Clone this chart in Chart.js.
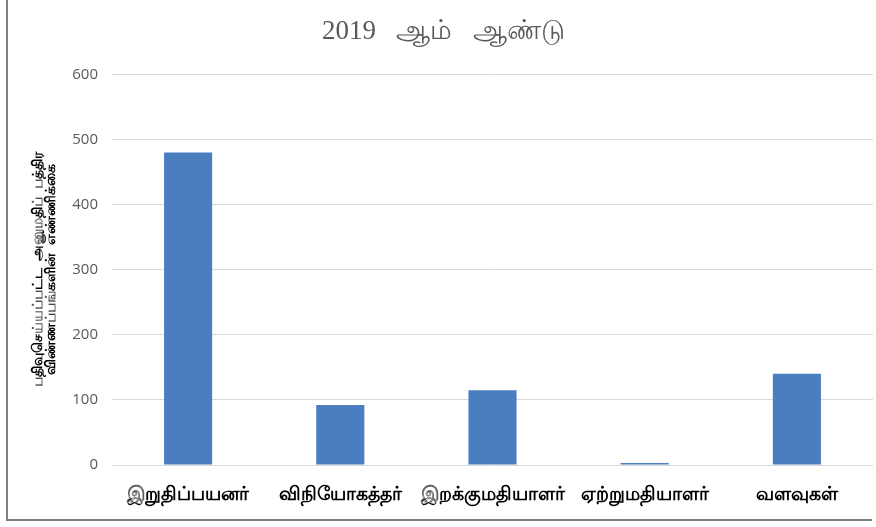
<!DOCTYPE html>
<html>
<head>
<meta charset="utf-8">
<script src="https://cdn.jsdelivr.net/npm/chart.js@4.4.1/dist/chart.umd.min.js"></script>
<style>
  html, body { margin: 0; padding: 0; background: #fff; }
  .wrap { position: relative; width: 876px; height: 527px; }
  .frame {
    position: absolute; left: 6px; top: -5px; width: 864px; height: 524px;
    border-left: 2px solid #7f7f7f; border-bottom: 2px solid #7f7f7f;
  }
  canvas { position: absolute; left: 0; top: 0; }
</style>
</head>
<body>
<div class="wrap">
  <div class="frame"></div>
  <canvas id="chart" width="876" height="527"></canvas>
</div>
<script>
const categories = ["இறுதிப்பயனர்", "விநியோகத்தர்", "இறக்குமதியாளர்", "ஏற்றுமதியாளர்", "வளவுகள்"];
const applications = [480, 92, 115, 3, 140];
const yTicks = [0, 100, 200, 300, 400, 500, 600];
const chartTitle = "  2019   ஆம்   ஆண்டு";
const yTitle = ["பதிவுசெய்யப்பட்ட  அனுமதிப்  பத்திர", "விண்ணப்பங்களின்  எண்ணிக்கை"];

const ctx = document.getElementById("chart").getContext("2d");
new Chart(ctx, {
  type: "bar",
  data: {
    labels: categories,
    datasets: [
      {
        label: "2019",
        data: applications,
        backgroundColor: "#4a7ebf",
        categoryPercentage: 1,
        barPercentage: 0.316,
      },
    ],
  },
  options: {
    responsive: false,
    animation: false,
    layout: { padding: { left: 0, right: 3, top: 0, bottom: 0 } },
    plugins: {
      legend: { display: false },
      tooltip: { enabled: false },
      title: {
        display: true,
        text: chartTitle,
        color: "#595959",
        font: { family: "'Liberation Serif', serif", size: 27, weight: "normal" },
        padding: { top: 16, bottom: 26 },
      },
    },
    scales: {
      x: {
        grid: { display: false },
        border: { display: false },
        ticks: {
          color: "#000",
          padding: 10,
          maxRotation: 0,
          font: { family: "'Liberation Sans', sans-serif", size: 19, weight: "bold" },
        },
        afterFit: (scale) => { scale.height = 62; },
      },
      y: {
        min: 0,
        max: 600,
        afterBuildTicks: (scale) => {
          scale.ticks = yTicks.map((v) => ({ value: v }));
        },
        grid: { color: "#d9d9d9", drawTicks: false, lineWidth: 1 },
        border: { display: false },
        ticks: {
          color: "#595959",
          padding: 14,
          font: { family: "'Open Sans', sans-serif", size: 15 },
        },
        title: {
          display: true,
          text: yTitle,
          color: "#000",
          font: { family: "'Liberation Sans', sans-serif", size: 14, weight: "bold", lineHeight: 0.95 },
          padding: { top: 31, bottom: 0 },
        },
        afterFit: (scale) => { scale.width = 112; },
      },
    },
  },
});
</script>
</body>
</html>
